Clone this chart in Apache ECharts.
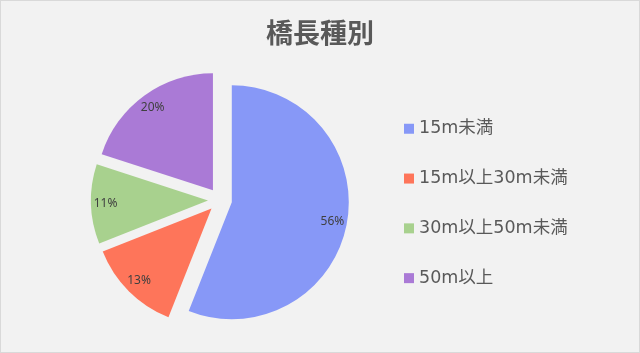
<!DOCTYPE html>
<html><head><meta charset="utf-8">
<script src="https://cdn.jsdelivr.net/npm/echarts@6/dist/echarts.min.js"></script>
<style>
html,body{margin:0;padding:0;background:#F2F2F2;}
#c{width:640px;height:353px;box-sizing:border-box;border:1px solid #D9D9D9;}
</style></head>
<body><div id="c"></div>
<script>
const title = '橋長種別';
const categories = ['15m未満', '15m以上30m未満', '30m以上50m未満', '50m以上'];
const values = [56, 13, 11, 20];
const colors = ['#8798F7', '#FE755A', '#A8D18E', '#AA7AD6'];

const chart = echarts.init(document.getElementById('c'));
const font = '"Noto Sans CJK JP", "Noto Sans", sans-serif';
const mainData = categories.map((n, i) => ({ name: n, value: values[i], selected: true, itemStyle: { color: colors[i] } }));
const labelData = categories.map((n, i) => ({ name: n, value: values[i], selected: true }));
chart.setOption({
  backgroundColor: '#F2F2F2',
  animation: false,
  title: {
    text: title, left: 'center', top: 13,
    textStyle: { fontFamily: font, fontSize: 27, fontWeight: 'bold', color: '#595959' }
  },
  legend: {
    orient: 'vertical', left: 398, top: 114,
    itemWidth: 10, itemHeight: 10, itemGap: 32.3,
    icon: 'rect',
    data: categories,
    textStyle: { fontFamily: '"DejaVu Sans", "Noto Sans CJK JP", sans-serif', fontSize: 17.5, color: '#595959', lineHeight: 17 }
  },
  series: [
    {
      type: 'pie', center: [219, 199], radius: [0, 117],
      startAngle: 90, clockwise: true,
      selectedMode: 'multiple', selectedOffset: 12,
      label: { show: false }, labelLine: { show: false },
      emphasis: { disabled: true },
      data: mainData
    },
    {
      type: 'pie', center: [219, 199], radius: [82, 117], silent: true,
      startAngle: 90, clockwise: true,
      selectedMode: 'multiple', selectedOffset: 12,
      itemStyle: { color: 'rgba(0,0,0,0)' },
      label: { show: true, position: 'inside', formatter: '{d}%', fontFamily: '"Noto Sans", sans-serif', fontSize: 12, color: '#404040' },
      labelLine: { show: false },
      emphasis: { disabled: true },
      data: labelData
    }
  ]
});
</script></body></html>
